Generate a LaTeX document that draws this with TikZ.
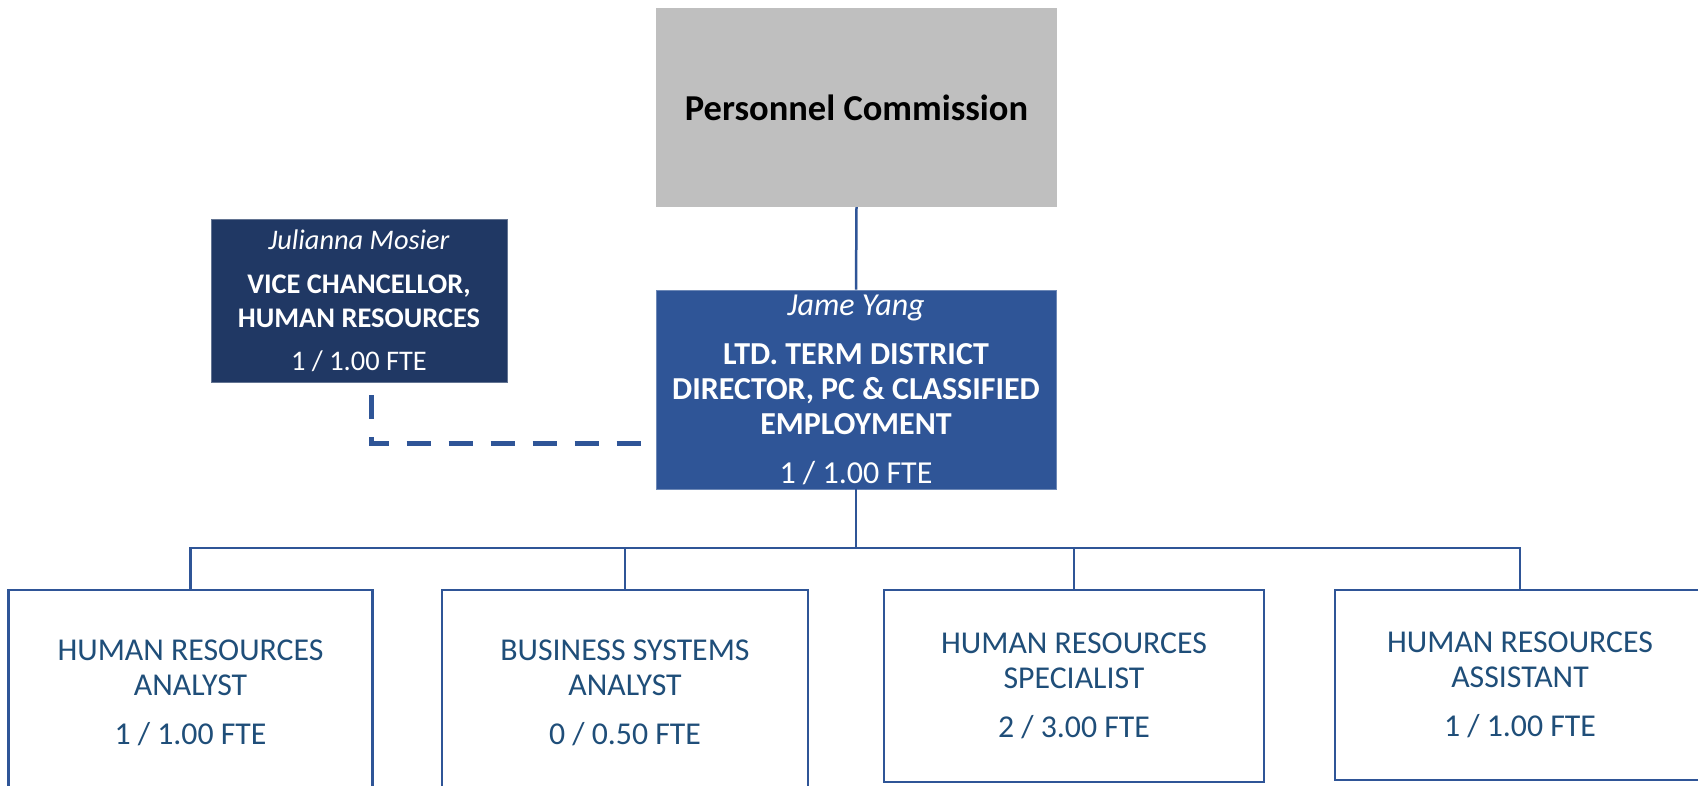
\documentclass[tikz,border=0pt]{standalone}
\usepackage{fontspec}
\setmainfont{Carlito}
\usepackage{xcolor}
\usepackage{tikz}
\usetikzlibrary{calc}
\definecolor{pcgray}{HTML}{BFBFBF}
\definecolor{dirblue}{HTML}{2F5597}
\definecolor{vpnavy}{HTML}{203864}
\definecolor{textblue}{HTML}{1F4E79}

\begin{document}
\begin{tikzpicture}[x=1pt,y=-1pt,
    pcbox/.style={fill=pcgray, minimum width=401pt, minimum height=199pt, inner sep=0pt,
        font=\fontsize{36.5}{42}\selectfont\bfseries},
    dirbox/.style={fill=dirblue, draw=dirblue!70!white, line width=0.8pt, text=white,
        minimum width=400pt, minimum height=199pt, inner sep=0pt, align=center,
        font=\fontsize{32}{35}\selectfont},
    vpbox/.style={fill=vpnavy, draw=vpnavy!70!white, line width=0.8pt, text=white,
        minimum width=296pt, minimum height=163pt, inner sep=0pt, align=center,
        font=\fontsize{28.4}{34}\selectfont},
    staffbox/.style={draw=dirblue, line width=2.5pt, fill=white, text=textblue,
        inner sep=0pt, align=center, font=\fontsize{31.8}{35}\selectfont},
    orgline/.style={draw=dirblue, line width=2.5pt},
    dotline/.style={draw=dirblue, line width=5pt, dash pattern=on 24pt off 18pt}
]
        %BATAS
        \useasboundingbox (0,0) rectangle (1698,785);
        %KOORDINAT
        \coordinate (bus) at (856,548);
        \coordinate (vpdash) at (371,395);
        \coordinate (dirdash) at (641,443.5);

        %KOTAK ATAS
        \node[pcbox] (pc) at (856.5,107.5) {Personnel Commission};
        \node[dirbox] (dir) at (856,389.5) {\textit{Jame Yang}\\[14pt]
            \textbf{LTD. TERM DISTRICT}\\
            \textbf{DIRECTOR, PC \& CLASSIFIED}\\
            \textbf{EMPLOYMENT}\\[14pt]
            1 / 1.00 FTE};
        \node[vpbox] (vp) at (359,300.5) {\textit{Julianna Mosier}\\[10pt]
            \textbf{VICE CHANCELLOR,}\\
            \textbf{HUMAN RESOURCES}\\[9pt]
            1 / 1.00 FTE};

        %KOTAK BAWAH
        \node[staffbox, minimum width=364pt, minimum height=205pt] (hra) at (190.5,692.5)
            {HUMAN RESOURCES\\ANALYST\\[14pt]1 / 1.00 FTE};
        \node[staffbox, minimum width=366pt, minimum height=205pt] (bsa) at (625,692.5)
            {BUSINESS SYSTEMS\\ANALYST\\[14pt]0 / 0.50 FTE};
        \node[staffbox, minimum width=380pt, minimum height=192pt] (hrs) at (1074,686)
            {HUMAN RESOURCES\\SPECIALIST\\[14pt]2 / 3.00 FTE};
        \node[staffbox, minimum width=370pt, minimum height=190pt] (has) at (1520,685)
            {HUMAN RESOURCES\\ASSISTANT\\[14pt]1 / 1.00 FTE};

        %GARIS
        \draw[orgline] (pc.south) -- (dir.north);
        \foreach \s in {hra,bsa,hrs,has}
            \draw[orgline] (dir.south) |- (bus) -| (\s.north);
        \draw[dotline] (vpdash) |- (dirdash);

    \end{tikzpicture}
\end{document}
